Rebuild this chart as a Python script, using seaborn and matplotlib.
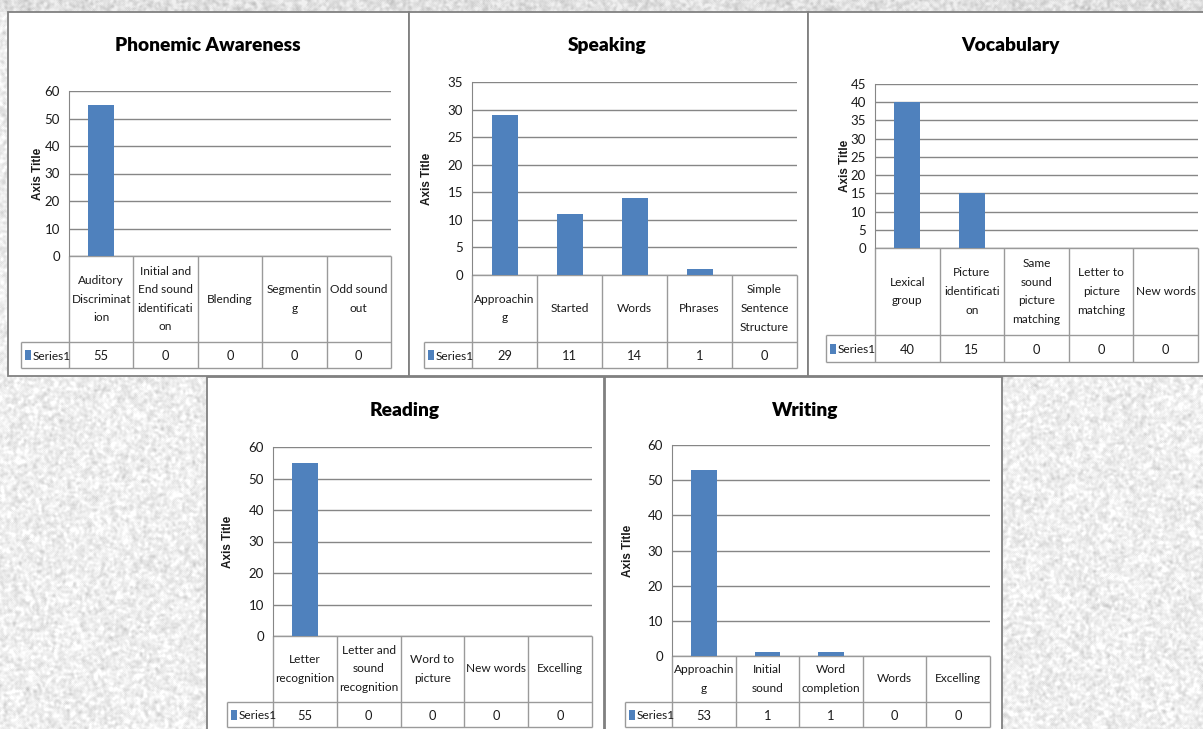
import numpy as np
import pandas as pd
import matplotlib
matplotlib.use("Agg")
import matplotlib.pyplot as plt
import seaborn as sns
from matplotlib.patches import Rectangle
from matplotlib.transforms import blended_transform_factory

# ---- chart data ----
phonemic_cats = ["Auditory\nDiscriminat\nion", "Initial and\nEnd sound\nidentificati\non",
                 "Blending", "Segmentin\ng", "Odd sound\nout"]
phonemic_vals = [55, 0, 0, 0, 0]

speaking_cats = ["Approachin\ng", "Started", "Words", "Phrases", "Simple\nSentence\nStructure"]
speaking_vals = [29, 11, 14, 1, 0]

vocab_cats = ["Lexical\ngroup", "Picture\nidentificati\non", "Same\nsound\npicture\nmatching",
              "Letter to\npicture\nmatching", "New words"]
vocab_vals = [40, 15, 0, 0, 0]

reading_cats = ["Letter\nrecognition", "Letter and\nsound\nrecognition", "Word to\npicture",
                "New words", "Excelling"]
reading_vals = [55, 0, 0, 0, 0]

writing_cats = ["Approachin\ng", "Initial\nsound", "Word\ncompletion", "Words", "Excelling"]
writing_vals = [53, 1, 1, 0, 0]

series_name = "Series1"

# ---- styling ----
sns.set_style("white")
plt.rcParams["font.family"] = ["Lato", "DejaVu Sans"]
BLUE = "#4F81BD"
GRID = "#868686"
TABLE = "#9a9a9a"
BORDER = "#808080"
TEXT = "#1a1a1a"

W, H = 1203, 729
fig = plt.figure(figsize=(W / 100, H / 100), dpi=100)

# grainy stone backdrop, pixel coordinates (y downwards)
bg = fig.add_axes([0, 0, 1, 1], zorder=0)
rng = np.random.default_rng(11)
noise = rng.normal(size=(H, W))


def soften(a):
    return (a + np.roll(a, 1, 0) + np.roll(a, -1, 0) + np.roll(a, 1, 1) + np.roll(a, -1, 1)) / 5


for _ in range(3):
    noise = soften(noise)
noise = (noise - noise.mean()) / noise.std()
tex = np.clip(0.935 + 0.035 * noise, 0.78, 1.0)
tex[:12] -= 0.06
bg.imshow(tex, cmap="gray", vmin=0, vmax=1, extent=(0, W, H, 0),
          interpolation="bilinear", aspect="auto")
bg.set_xlim(0, W)
bg.set_ylim(H, 0)
bg.axis("off")

panels = [
    dict(title="Phonemic Awareness", cats=phonemic_cats, vals=phonemic_vals, ymax=60, step=10,
         box=(8, 12, 409, 376), L=69, R=391, top=91, zero=256, cat_bot=342, ser_bot=368,
         leg=21, title_xy=(208, 45), ytitle_x=38),
    dict(title="Speaking", cats=speaking_cats, vals=speaking_vals, ymax=35, step=5,
         box=(409, 12, 808, 376), L=472, R=797, top=82, zero=275, cat_bot=342, ser_bot=368,
         leg=424, title_xy=(607, 45), ytitle_x=427),
    dict(title="Vocabulary", cats=vocab_cats, vals=vocab_vals, ymax=45, step=5,
         box=(808, 12, 1206, 376), L=875, R=1198, top=84, zero=248, cat_bot=335, ser_bot=362,
         leg=826, title_xy=(1010, 45), ytitle_x=845),
    dict(title="Reading", cats=reading_cats, vals=reading_vals, ymax=60, step=10,
         box=(207, 377, 604, 740), L=273, R=592, top=447, zero=636, cat_bot=702, ser_bot=727,
         leg=227, title_xy=(405, 410), ytitle_x=228),
    dict(title="Writing", cats=writing_cats, vals=writing_vals, ymax=60, step=10,
         box=(605, 377, 1002, 740), L=672, R=990, top=445, zero=656, cat_bot=702, ser_bot=727,
         leg=625, title_xy=(805, 410), ytitle_x=628),
]

for p in panels:
    x0, y0, x1, y1 = p["box"]
    L, R, top, zero = p["L"], p["R"], p["top"], p["zero"]
    cat_bot, ser_bot = p["cat_bot"], p["ser_bot"]

    # white chart card
    bg.add_patch(Rectangle((x0, y0), x1 - x0, y1 - y0, facecolor="white",
                           edgecolor=BORDER, lw=1.3, zorder=2))
    bg.text(*p["title_xy"], p["title"], ha="center", va="center", fontsize=13.8,
            fontweight="heavy", color="black", zorder=5)

    # column chart
    ax = fig.add_axes([L / W, 1 - zero / H, (R - L) / W, (zero - top) / H], zorder=3)
    df = pd.DataFrame({"category": p["cats"], "value": p["vals"]})
    sns.barplot(data=df, x="category", y="value", color=BLUE, saturation=1,
                width=0.4, linewidth=0, ax=ax)
    ax.set_xlim(-0.5, 4.5)
    ax.set_ylim(0, p["ymax"])
    ax.set_yticks(np.arange(0, p["ymax"] + 1, p["step"]))
    ax.set_xticks([])
    ax.set_xlabel("")
    ax.set_ylabel("Axis Title", family=["Liberation Sans", "DejaVu Sans"], fontweight="bold",
                  fontsize=8.5, va="center", color=TEXT)
    ax.yaxis.set_label_coords((p["ytitle_x"] - L) / (R - L), 0.5)
    ax.set_facecolor("none")
    ax.grid(axis="y", color=GRID, lw=1)
    ax.grid(axis="x", visible=False)
    ax.set_axisbelow(True)
    for s in ["top", "right", "bottom"]:
        ax.spines[s].set_visible(False)
    ax.spines["left"].set_color(GRID)
    ax.tick_params(axis="y", length=0, pad=6.5, labelsize=9.5, labelcolor=TEXT)

    # data table beneath the plot, columns on the chart's category scale
    tr = blended_transform_factory(ax.transData, bg.transData)
    cw = (R - L) / 5
    xl = -0.5 - (L - p["leg"]) / cw
    kw = dict(color=TABLE, lw=1, transform=tr, zorder=4, clip_on=False, solid_capstyle="butt")
    bg.plot([-0.5, 4.5], [zero, zero], **kw)
    bg.plot([xl, 4.5], [cat_bot, cat_bot], **kw)
    bg.plot([xl, 4.5], [ser_bot, ser_bot], **kw)
    for i in range(6):
        bg.plot([i - 0.5, i - 0.5], [zero, ser_bot], **kw)
    bg.plot([xl, xl], [cat_bot, ser_bot], **kw)
    ymid_cat = (zero + cat_bot) / 2
    ymid_ser = (cat_bot + ser_bot) / 2
    for i, (c, v) in enumerate(zip(p["cats"], p["vals"])):
        bg.text(i, ymid_cat, c, ha="center", va="center", fontsize=8.6, linespacing=1.85,
                color=TEXT, transform=tr, zorder=5)
        bg.text(i, ymid_ser + 1, str(v), ha="center", va="center", fontsize=9.3,
                color=TEXT, transform=tr, zorder=5)
    lx = p["leg"]
    bg.add_patch(Rectangle((lx + 4, ymid_ser - 5), 6, 10, facecolor=BLUE, lw=0, zorder=5))
    bg.text(lx + 11.5, ymid_ser + 1, series_name, ha="left", va="center", fontsize=8.6,
            color=TEXT, zorder=5)

fig.savefig("out.png", dpi=100)
